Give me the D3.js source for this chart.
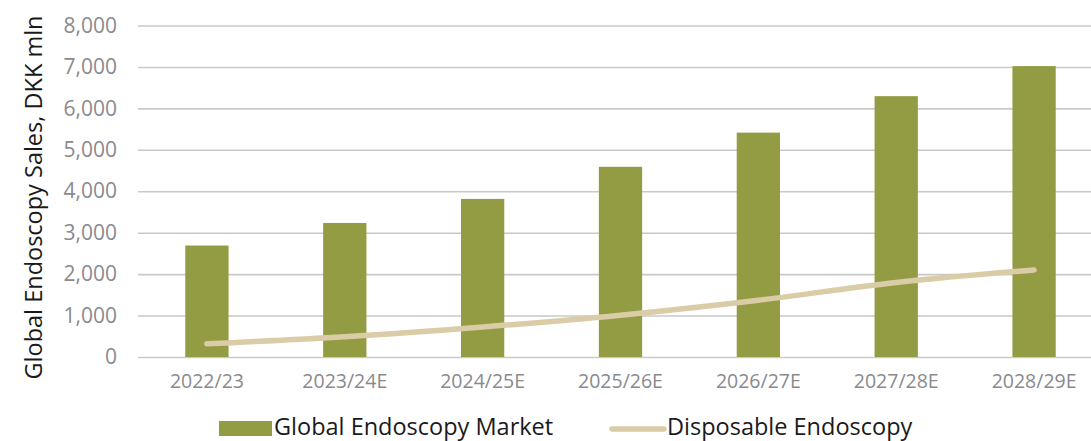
<!DOCTYPE html>
<html>
<head>
<meta charset="utf-8">
<script src="https://cdn.jsdelivr.net/npm/d3@7"></script>
<style>
  body { margin: 0; background: #fff; }
  svg { display: block; font-family: 'Open Sans', sans-serif; }
</style>
</head>
<body>
<div id="chart"></div>
<script>
// chart data
var years = ["2022/23", "2023/24E", "2024/25E", "2025/26E", "2026/27E", "2027/28E", "2028/29E"];
var marketSales = [2690, 3235, 3815, 4590, 5415, 6295, 7020];
var disposableSales = [320, 490, 725, 1010, 1370, 1800, 2100];
var yTicks = [0, 1000, 2000, 3000, 4000, 5000, 6000, 7000, 8000];

var W = 1091, H = 441;
var plot = {left: 138, right: 1103, top: 25.5, bottom: 357};

var svg = d3.select("#chart").append("svg")
    .attr("width", W)
    .attr("height", H);

var x = d3.scaleBand()
    .domain(years)
    .range([plot.left, plot.right])
    .paddingInner(0.686)
    .paddingOuter(0.343);

var y = d3.scaleLinear()
    .domain([0, 8000])
    .range([plot.bottom, plot.top]);

// y axis + gridlines
var yAxis = svg.append("g")
    .attr("transform", "translate(" + plot.left + ",0)")
    .call(d3.axisLeft(y)
        .tickValues(yTicks)
        .tickSize(-(plot.right - plot.left))
        .tickPadding(21)
        .tickFormat(d3.format(",")));
yAxis.select(".domain").remove();
yAxis.selectAll(".tick line")
    .attr("stroke", "#c9c9c9")
    .attr("stroke-width", 1.6);
yAxis.selectAll(".tick text")
    .attr("fill", "#8a8a8e")
    .attr("font-size", "21px")
    .attr("font-family", "'Open Sans', sans-serif");

// bars
svg.append("g").selectAll("rect")
    .data(years)
    .join("rect")
    .attr("x", d => x(d))
    .attr("y", (d, i) => y(marketSales[i]))
    .attr("width", x.bandwidth())
    .attr("height", (d, i) => y(0) - y(marketSales[i]))
    .attr("fill", "#939b43");

// x axis labels
var xAxis = svg.append("g")
    .attr("transform", "translate(0," + plot.bottom + ")")
    .call(d3.axisBottom(x).tickSize(0).tickPadding(17));
xAxis.select(".domain").remove();
xAxis.selectAll(".tick text")
    .attr("fill", "#8a8a8e")
    .attr("font-size", "19.5px")
    .attr("font-family", "'Open Sans', sans-serif");

// disposable line
var line = d3.line()
    .x((d, i) => x(years[i]) + x.bandwidth() / 2)
    .y(d => y(d))
    .curve(d3.curveCatmullRom.alpha(0.5));

svg.append("path")
    .datum(disposableSales)
    .attr("d", line)
    .attr("fill", "none")
    .attr("stroke", "#d9cca6")
    .attr("stroke-width", 5.5)
    .attr("stroke-linecap", "round");

// y title
svg.append("text")
    .attr("transform", "translate(42,197.5) rotate(-90)")
    .attr("text-anchor", "middle")
    .attr("font-size", "23.5px")
    .attr("fill", "#1a1a1a")
    .text("Global Endoscopy Sales, DKK mln");

// legend
var legend = svg.append("g");
legend.append("rect")
    .attr("x", 219).attr("y", 421)
    .attr("width", 53).attr("height", 15)
    .attr("fill", "#939b43");
legend.append("text")
    .attr("x", 274).attr("y", 435)
    .attr("font-size", "23.5px")
    .attr("fill", "#1a1a1a")
    .text("Global Endoscopy Market");
legend.append("line")
    .attr("x1", 612).attr("x2", 664)
    .attr("y1", 429).attr("y2", 429)
    .attr("stroke", "#d9cca6")
    .attr("stroke-width", 5.5)
    .attr("stroke-linecap", "round");
legend.append("text")
    .attr("x", 667).attr("y", 435)
    .attr("font-size", "23.5px")
    .attr("fill", "#1a1a1a")
    .text("Disposable Endoscopy");
</script>
</body>
</html>
